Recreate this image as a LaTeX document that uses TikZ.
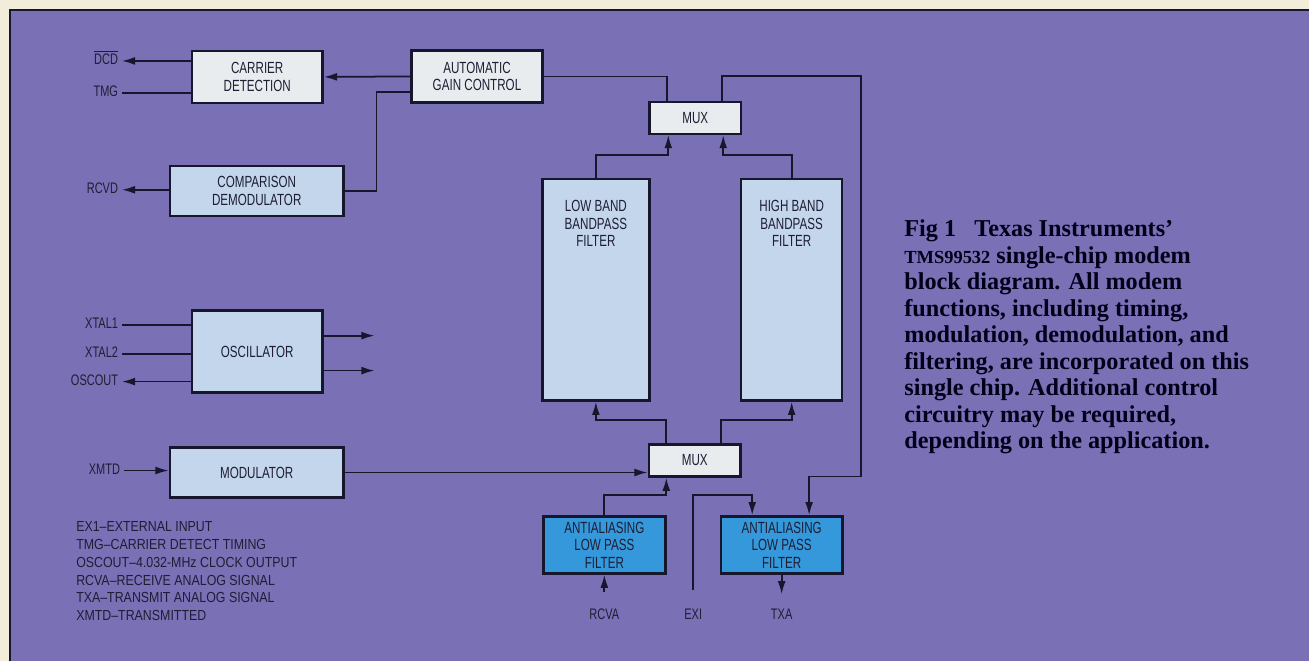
\documentclass[tikz,border=0pt]{standalone}
\usepackage{fontspec}
\setmainfont{Liberation Serif}
\newfontfamily\condsans[FakeStretch=0.72]{Liberation Sans}
\newfontfamily\legsans[FakeStretch=0.85]{Liberation Sans}
\usepackage{xcolor}
\usepackage{tikz}
\usetikzlibrary{arrows.meta,positioning}

\definecolor{paper}{RGB}{242,236,218}
\definecolor{slate}{RGB}{122,112,182}
\definecolor{boxwhite}{RGB}{232,236,238}
\definecolor{boxblue}{RGB}{196,214,236}
\definecolor{filtblue}{RGB}{52,152,218}
\definecolor{wire}{RGB}{22,22,45}
\definecolor{ink}{RGB}{30,30,52}

\begin{document}
\begin{tikzpicture}[
  x=0.02cm, y=0.02cm,
  txt/.style={text=ink, align=center, font=\condsans\fontsize{9.2}{10}\selectfont},
  blk/.style={rectangle, draw=wire, line width=1.4pt, inner sep=1pt, txt},
  wbox/.style={blk, fill=boxwhite},
  bbox/.style={blk, fill=boxblue},
  aabox/.style={blk, fill=filtblue, minimum width=2.44cm, minimum height=1.14cm},
  sig/.style={text=ink, inner sep=2pt, font=\condsans\fontsize{8.7}{10}\selectfont},
  conn/.style={draw=wire, line width=1pt},
  arr/.style={conn, -{Latex[length=7.5pt,width=4.5pt]}}
]
% background and frame
\fill[paper] (0,0) rectangle (1310,-662);
\fill[slate] (10,-10) rectangle (1310,-662);
\draw[wire, line width=1.6pt] (10,-662) -- (10,-10) -- (1310,-10);
\useasboundingbox (0,0) rectangle (1310,-662);

% blocks
\node[wbox, minimum width=2.62cm, minimum height=1.04cm] (cd) at (257.5,-77) {CARRIER\\DETECTION};
\node[wbox, minimum width=2.62cm, minimum height=1.04cm] (agc) at (477.5,-76.5) {AUTOMATIC\\GAIN CONTROL};
\node[bbox, minimum width=3.48cm, minimum height=1.0cm] (cmp) at (257,-191) {COMPARISON\\DEMODULATOR};
\node[bbox, minimum width=2.62cm, minimum height=1.64cm] (osc) at (257.5,-352) {OSCILLATOR};
\node[bbox, minimum width=3.48cm, minimum height=1.0cm] (mod) at (257,-473) {MODULATOR};
\node[wbox, minimum width=1.84cm, minimum height=0.64cm] (muxout) at (696,-118) {MUX};
\node[wbox, minimum width=1.84cm, minimum height=0.64cm] (muxin) at (695.5,-461) {MUX};
\node[bbox, minimum width=2.14cm, minimum height=4.44cm,
  label={[txt, anchor=north, yshift=-0.33cm]north:{LOW BAND\\BANDPASS\\FILTER}}] (lbf) at (596.5,-290) {};
\node[bbox, minimum width=2.02cm, minimum height=4.44cm,
  label={[txt, anchor=north, yshift=-0.33cm]north:{HIGH BAND\\BANDPASS\\FILTER}}] (hbf) at (792.5,-290) {};
\node[aabox] (aarx) at (605,-545.5) {ANTIALIASING\\LOW PASS\\FILTER};
\node[aabox] (aatx) at (782.5,-545.5) {ANTIALIASING\\LOW PASS\\FILTER};

% pins
\node[sig, anchor=mid east] (dcd) at (122,-61) {$\overline{\mbox{DCD}}$};
\node[sig, anchor=mid east] (tmg) at (122,-93) {TMG};
\node[sig, anchor=mid east] (rcvd) at (122,-190) {RCVD};
\node[sig, anchor=mid east] (xtla) at (122,-325) {XTAL1};
\node[sig, anchor=mid east] (xtlb) at (122,-354) {XTAL2};
\node[sig, anchor=mid east] (oscout) at (122,-382) {OSCOUT};
\node[sig, anchor=mid east] (xmtd) at (124,-471) {XMTD};
\node[sig] (rcva) at (605,-615) {RCVA};
\node[sig] (exi) at (694,-615) {EXI};
\node[sig] (txa) at (782.5,-615) {TXA};
\coordinate (clka) at (375,-336);
\coordinate (clkb) at (375,-371);
\coordinate (rtop) at (862,-76);
\coordinate (rbot) at (862,-477);

% receive side
\draw[arr] (agc.west) -- (cd.east);
\draw[conn] ([yshift=-0.31cm]agc.west) -- ++(-0.68cm,0) |- (cmp.east);
\draw[arr] (cd.west |- dcd.mid east) -- (dcd.mid east);
\draw[conn] (tmg.mid east) -- (cd.west |- tmg.mid east);
\draw[arr] (cmp.west |- rcvd.mid east) -- (rcvd.mid east);
\draw[conn] (agc.east) -| ([xshift=-0.56cm]muxout.north);
\draw[arr] (lbf.north) -- ++(0,0.46cm) -| ([xshift=-0.54cm]muxout.south);
\draw[arr] (hbf.north) -- ++(0,0.46cm) -| ([xshift=0.56cm]muxout.south);
\draw[arr] ([xshift=0.54cm]muxout.north) |- (rtop) -- (rbot) -| ([xshift=0.55cm]aatx.north);

% oscillator
\draw[conn] (xtla.mid east) -- (osc.west |- xtla.mid east);
\draw[conn] (xtlb.mid east) -- (osc.west |- xtlb.mid east);
\draw[arr] (osc.west |- oscout.mid east) -- (oscout.mid east);
\draw[arr] (osc.east |- clka) -- (clka);
\draw[arr] (osc.east |- clkb) -- (clkb);

% transmit side
\draw[arr] (xmtd.mid east) -- (mod.west |- xmtd.mid east);
\draw[arr] (mod.east) -- (mod.east -| muxin.west);
\draw[arr] ([xshift=-0.57cm]muxin.north) -- ++(0,0.46cm) -| (lbf.south);
\draw[arr] ([xshift=0.53cm]muxin.north) -- ++(0,0.46cm) -| (hbf.south);
\draw[arr] (aarx.north) -- ++(0,0.4cm) -| ([xshift=-0.57cm]muxin.south);
\draw[arr, shorten <=0.26cm] (rcva) -- (aarx.south);
\draw[arr, shorten <=0.3cm] (exi) |- ([xshift=-0.59cm,yshift=0.4cm]aatx.north) -- ([xshift=-0.59cm]aatx.north);
\draw[arr, shorten >=0.22cm] (aatx.south) -- (txa);

% legend and caption
\node[anchor=north west, inner sep=0, text=ink, align=left, font=\legsans\fontsize{8.3}{10.1}\selectfont] (legend) at (76,-522)
  {EX1\textendash EXTERNAL INPUT\\TMG\textendash CARRIER DETECT TIMING\\OSCOUT\textendash 4.032-MHz CLOCK OUTPUT\\RCVA\textendash RECEIVE ANALOG SIGNAL\\TXA\textendash TRANSMIT ANALOG SIGNAL\\XMTD\textendash TRANSMITTED};
\node[anchor=north west, inner sep=0, text=black!90!blue, align=left, font=\bfseries\fontsize{13.8}{15.1}\selectfont] (caption) at (905,-220)
  {Fig 1\enspace\ Texas Instruments’\\{\fontsize{10.5}{15.1}\selectfont TMS99532} single-chip modem\\block diagram. All modem\\functions, including timing,\\modulation, demodulation, and\\filtering, are incorporated on this\\single chip. Additional control\\circuitry may be required,\\depending on the application.};
\end{tikzpicture}
\end{document}
